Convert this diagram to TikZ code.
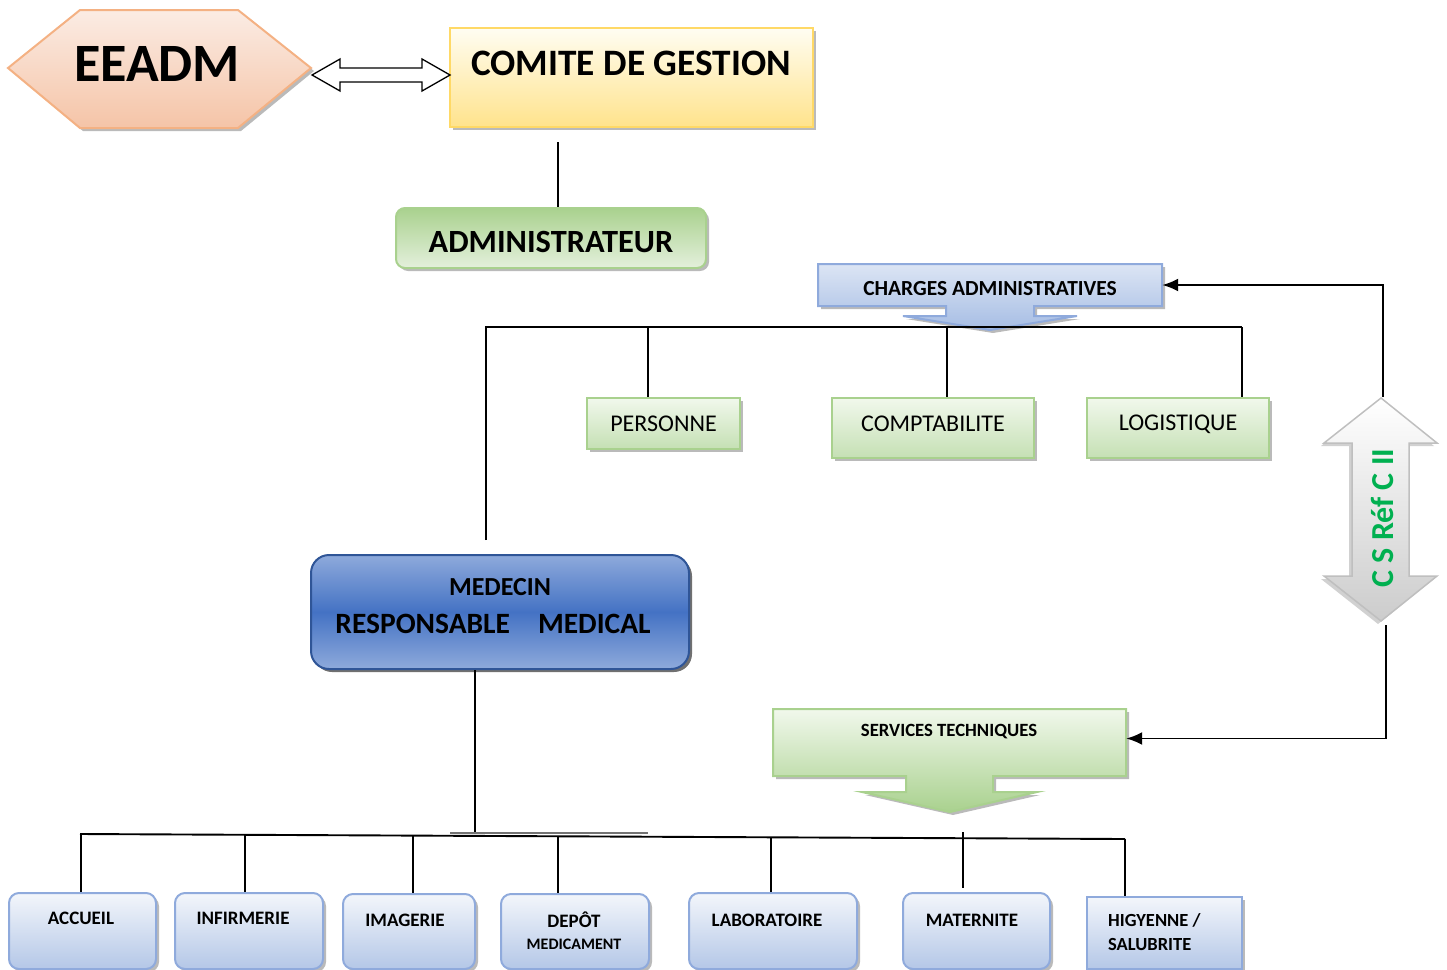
\documentclass[tikz,border=0pt]{standalone}
\usepackage{fontspec}
\setmainfont{Carlito}
\usetikzlibrary{shadows,arrows.meta,calc}
\definecolor{peachB}{HTML}{F4B183}
\definecolor{peachT}{HTML}{FBECE4}
\definecolor{peachBot}{HTML}{F5C4A7}
\definecolor{goldB}{HTML}{FFD966}
\definecolor{yelT}{HTML}{FFFDF2}
\definecolor{yelBot}{HTML}{FFE38C}
\definecolor{grnB}{HTML}{A9D18E}
\definecolor{grnT}{HTML}{F1F8EC}
\definecolor{grnBot}{HTML}{C5E0B4}
\definecolor{admT}{HTML}{A9D18E}
\definecolor{admBot}{HTML}{E4F0DC}
\definecolor{bluB}{HTML}{8FAADC}
\definecolor{bluT}{HTML}{F3F6FB}
\definecolor{bluBot}{HTML}{B4C7E7}
\definecolor{chT}{HTML}{DCE5F4}
\definecolor{chBot}{HTML}{A6BDE4}
\definecolor{medL}{HTML}{8EAADB}
\definecolor{medD}{HTML}{4472C4}
\definecolor{medB}{HTML}{2F5597}
\definecolor{csgreen}{HTML}{00B050}
\definecolor{grayB}{HTML}{BFBFBF}
\tikzset{
  shad/.style={drop shadow={shadow xshift=3pt,shadow yshift=-3pt,fill=black!45,opacity=.6}},
  conn/.style={draw=black,line width=1.9pt},
  tip/.style={-{Latex[length=16pt,width=13pt]}},
  greenbox/.style={draw=grnB,line width=2pt,top color=grnT,bottom color=grnBot,shad,inner sep=0pt},
  bluebox/.style={draw=bluB,line width=2pt,top color=bluT,bottom color=bluBot,shad,inner sep=0pt,rounded corners=10pt},
  lbl/.style={inner sep=0pt,text=black},
}
\begin{document}
\begin{tikzpicture}[x=1pt,y=-1pt]
\useasboundingbox (0,0) rectangle (1447,969);

% EEADM hexagon
\path[draw=peachB,line width=2pt,top color=peachT,bottom color=peachBot,shad]
  (8,68) -- (80,10) -- (238,10) -- (311,68) -- (238,128) -- (80,128) -- cycle;
\node[lbl] (eeadm) at (157,64) {\fontsize{54}{54}\selectfont\bfseries EEADM};

% COMITE
\node[draw=goldB,line width=2pt,top color=yelT,bottom color=yelBot,shad,inner sep=0pt,
      minimum width=363pt,minimum height=99pt] (comite) at (631.5,77.5) {};
\node[lbl] (comitet) at (631,63) {\fontsize{37.3}{37.3}\selectfont\bfseries COMITE DE GESTION};

% double block arrow
\path[draw=black,fill=white,line width=1.3pt]
  (312,75) -- (340,59) -- (340,68) -- (422,68) -- (422,59) -- (450,75)
  -- (422,91) -- (422,82) -- (340,82) -- (340,91) -- cycle;

% ADMINISTRATEUR
\node[draw=grnB,line width=2pt,top color=admT,bottom color=admBot,shad,inner sep=0pt,
      rounded corners=9pt,minimum width=310pt,minimum height=60pt] (admin) at (551,238) {};
\node[lbl] (admint) at (551,242) {\fontsize{32.4}{32.4}\selectfont\bfseries ADMINISTRATEUR};
\coordinate (a1) at (558,142);
\draw[conn] (a1) -- (558,0 |- admin.north);

% CHARGES ADMINISTRATIVES callout
\path[draw=bluB,line width=2pt,top color=chT,bottom color=chBot,shad]
  (818,264) -- (1162,264) -- (1162,306) -- (1034,306) -- (1034,316) -- (1077,316)
  -- (990,330) -- (903,316) -- (946,316) -- (946,306) -- (818,306) -- cycle;
\node[inner sep=0pt,minimum width=344pt,minimum height=42pt] (charges) at (990,285) {};
\node[lbl] (chargest) at (990,289) {\fontsize{21.5}{21.5}\selectfont\bfseries CHARGES ADMINISTRATIVES};

% admin bus
\coordinate (bA) at (486,540);
\coordinate (bAtop) at (486,327);
\coordinate (bAR) at (1242,327);
\draw[conn] (bA) -- (bAtop) -- (bAR);

\node[greenbox,minimum width=153pt,minimum height=51pt] (personne) at (663.5,423.5) {};
\node[lbl] (personnet) at (663.5,424) {\fontsize{24}{24}\selectfont PERSONNE};
\node[greenbox,minimum width=202pt,minimum height=60pt] (compta) at (933,428) {};
\node[lbl] (comptat) at (933,424) {\fontsize{24}{24}\selectfont COMPTABILITE};
\node[greenbox,minimum width=182pt,minimum height=60pt] (logis) at (1178,428) {};
\node[lbl] (logist) at (1178,424) {\fontsize{24}{24}\selectfont LOGISTIQUE};

\draw[conn] (648,327) -- (648,0 |- personne.north);
\draw[conn] (947,327) -- (947,0 |- compta.north);
\draw[conn] (bAR) -- (1242,0 |- logis.north);

% MEDECIN
\node[draw=medB,line width=2pt,top color=medL,bottom color=medL,middle color=medD,
      drop shadow={shadow xshift=3pt,shadow yshift=-3pt,fill=black!70,opacity=.8},
      inner sep=0pt,rounded corners=18pt,minimum width=378pt,minimum height=114pt] (medecin) at (500,612) {};
\node[lbl] (medt1) at (500,587) {\fontsize{26}{26}\selectfont\bfseries MEDECIN};
\node[lbl] (medt2) at (493,624) {\fontsize{29.5}{29.5}\selectfont\bfseries RESPONSABLE\hspace{0.95em}MEDICAL};

% SERVICES TECHNIQUES callout
\path[draw=grnB,line width=2pt,top color=grnT,bottom color=grnB,shad]
  (773,709) -- (1126,709) -- (1126,776) -- (993,776) -- (993,792) -- (1037,792)
  -- (950,812) -- (862,792) -- (906,792) -- (906,776) -- (773,776) -- cycle;
\node[inner sep=0pt,minimum width=353pt,minimum height=67pt] (services) at (949.5,742.5) {};
\node[lbl] (servicest) at (949,732) {\fontsize{18.7}{18.7}\selectfont\bfseries SERVICES TECHNIQUES};

% up-down block arrow
\path[draw=grayB,line width=1.5pt,top color=white,bottom color=black!20,
      drop shadow={shadow xshift=-3pt,shadow yshift=-3pt,fill=black!30,opacity=.6}]
  (1381,398) -- (1437,443) -- (1409,443) -- (1409,576) -- (1437,576) -- (1381,621)
  -- (1324,576) -- (1352,576) -- (1352,443) -- (1324,443) -- cycle;
\node[lbl,rotate=90,anchor=base] (csref) at (1393,518) {\fontsize{32}{32}\selectfont\bfseries\color{csgreen}C S Réf C II};
\coordinate (udTop) at (1383,397);
\coordinate (udBot) at (1386,625);
\draw[conn,tip] (udTop) -- (1383,285) -- (charges.east);
\draw[conn,tip] (udBot) |- ([yshift=4pt]services.east);

% medical bus
\draw[conn] ([xshift=-25pt]medecin.south) -- ++(0,163);
\draw[line width=2.5pt,black!55] (450,833) -- (648,833);
\coordinate (bL) at (80,834);
\coordinate (bR) at (1125,839);
\draw[conn] (bL) -- (bR);

\node[bluebox,minimum width=147pt,minimum height=76pt] (accueil) at (82.5,931) {};
\node[bluebox,minimum width=148pt,minimum height=76pt] (infirm) at (249,931) {};
\node[bluebox,minimum width=132pt,minimum height=75pt] (imag) at (409,931.5) {};
\node[bluebox,minimum width=148pt,minimum height=75pt] (depot) at (575,931.5) {};
\node[bluebox,minimum width=168pt,minimum height=76pt] (labo) at (773,931) {};
\node[bluebox,minimum width=147pt,minimum height=76pt] (mater) at (976.5,931) {};
\node[bluebox,rounded corners=0pt,minimum width=155pt,minimum height=72pt] (hyg) at (1164.5,933) {};

\draw[conn] (81,834) -- (81,0 |- accueil.north);
\draw[conn] (245,835) -- (245,0 |- infirm.north);
\draw[conn] (413,836) -- (413,0 |- imag.north);
\draw[conn] (558,836) -- (558,0 |- depot.north);
\draw[conn] (771,837) -- (771,0 |- labo.north);
\draw[conn] (963,832) -- (963,888);
\draw[conn] (bR) -- (1125,0 |- hyg.north);

\node[lbl] (accueilt) at (81,918) {\fontsize{19}{19}\selectfont\bfseries ACCUEIL};
\node[lbl] (infirmt) at (243,918) {\fontsize{19}{19}\selectfont\bfseries INFIRMERIE};
\node[lbl] (imagt) at (405,920) {\fontsize{19}{19}\selectfont\bfseries IMAGERIE};
\node[lbl] (depott) at (574,920) {\fontsize{19}{19}\selectfont\bfseries DEPÔT};
\node[lbl] (depott2) at (574,944) {\fontsize{16}{16}\selectfont\bfseries MEDICAMENT};
\node[lbl] (labot) at (767,920) {\fontsize{19}{19}\selectfont\bfseries LABORATOIRE};
\node[lbl] (matert) at (972,920) {\fontsize{19}{19}\selectfont\bfseries MATERNITE};
\node[lbl,anchor=west] (hygt) at (1108,920) {\fontsize{18.5}{18.5}\selectfont\bfseries HIGYENNE /};
\node[lbl,anchor=west] (hygt2) at (1108,944) {\fontsize{18.5}{18.5}\selectfont\bfseries SALUBRITE};
\end{tikzpicture}
\end{document}
